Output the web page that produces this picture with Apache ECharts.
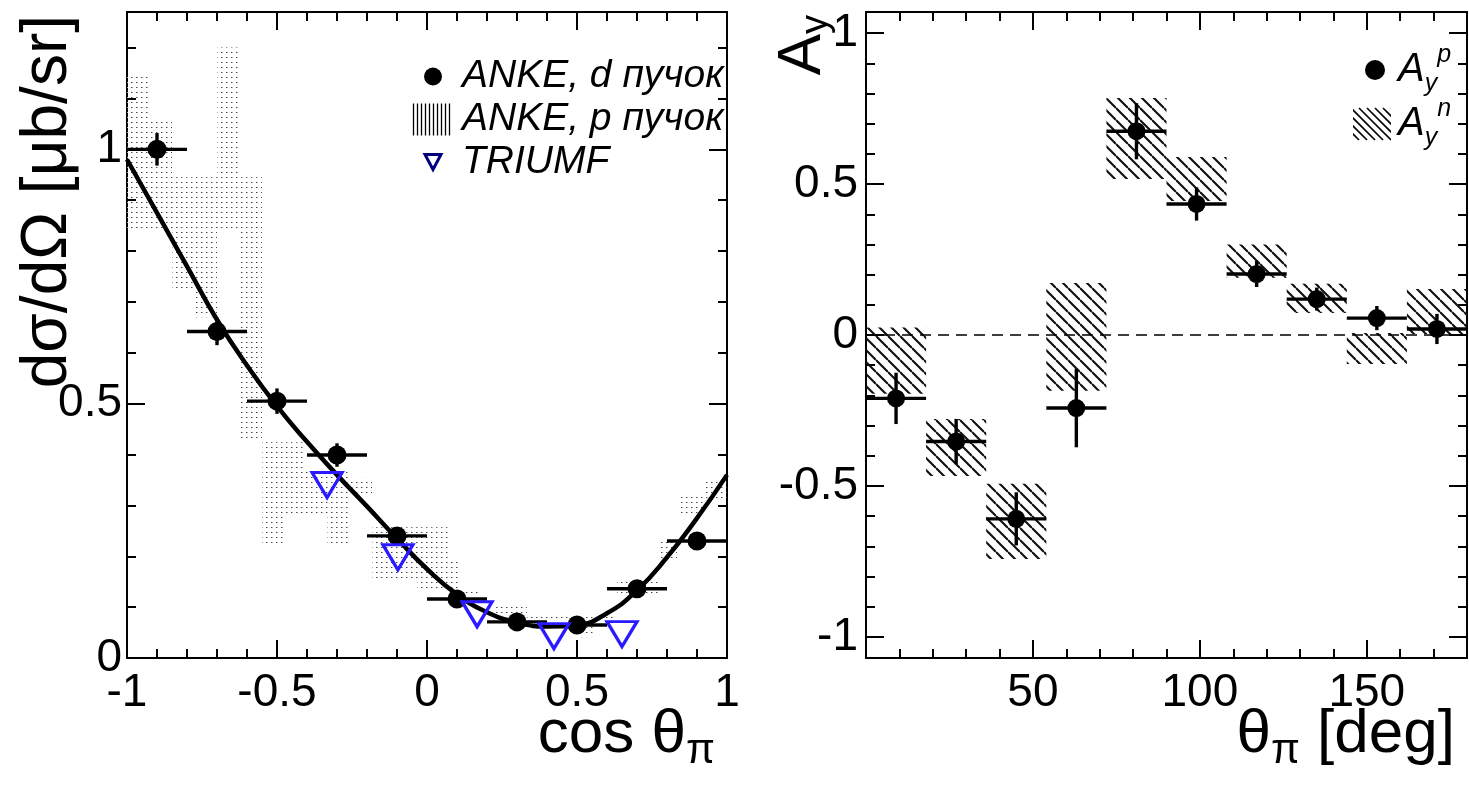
<!DOCTYPE html>
<html><head><meta charset="utf-8">
<script src="https://cdn.jsdelivr.net/npm/echarts@6/dist/echarts.min.js"></script>
<style>html,body{margin:0;padding:0;background:#fff}#c{width:1469px;height:788px}</style>
</head><body><div id="c"></div>
<script>
// ---------------- data: left panel (dσ/dΩ vs cos θπ) ----------------
const dBeamCos      = [-0.9, -0.7, -0.5, -0.3, -0.1, 0.1, 0.3, 0.5, 0.7, 0.9];
const dBeamCosHalf  = [0.1, 0.1, 0.1, 0.1, 0.1, 0.1, 0.1, 0.1, 0.1, 0.1];
const dBeamXsec     = [1.0, 0.642, 0.505, 0.399, 0.24, 0.116, 0.071, 0.065, 0.136, 0.23];
const dBeamXsecErr  = [0.032, 0.027, 0.025, 0.023, 0.015, 0.01, 0.01, 0.01, 0.01, 0.01];

const triumfCos  = [-0.333, -0.097, 0.167, 0.423, 0.65];
const triumfXsec = [0.34, 0.198, 0.086, 0.043, 0.047];

const fitCos  = [-1, -0.9, -0.8, -0.7, -0.6, -0.5, -0.4, -0.3, -0.2, -0.1, 0, 0.1, 0.2, 0.3, 0.4, 0.5, 0.6, 0.7, 0.8, 0.9, 1];
const fitXsec = [0.98, 0.875, 0.77, 0.665, 0.575, 0.495, 0.425, 0.36, 0.298, 0.235, 0.175, 0.125, 0.09, 0.07, 0.062, 0.065, 0.088, 0.133, 0.198, 0.275, 0.36];

const pBeamCosLo  = [-1.0, -0.923, -0.85, -0.775, -0.70, -0.63, -0.55, -0.48, -0.41, -0.333, -0.257, -0.183, -0.033, 0.11, 0.22, 0.333, 0.51, 0.633, 0.777, 0.843, 0.92];
const pBeamCosHi  = [-0.923, -0.85, -0.775, -0.70, -0.63, -0.55, -0.48, -0.41, -0.333, -0.257, -0.183, 0.077, 0.11, 0.177, 0.333, 0.62, 0.553, 0.777, 0.833, 0.92, 1.0];
const pBeamXsecLo = [0.84, 0.84, 0.72, 0.67, 0.84, 0.43, 0.226, 0.285, 0.285, 0.218, 0.324, 0.153, 0.134, 0.124, 0.08, 0.075, 0.041, 0.12, 0.193, 0.285, 0.31];
const pBeamXsecHi = [1.15, 1.06, 0.945, 0.945, 1.2, 0.945, 0.424, 0.424, 0.37, 0.37, 0.354, 0.257, 0.189, 0.137, 0.108, 0.088, 0.061, 0.157, 0.232, 0.324, 0.35];

// ---------------- data: right panel (A_y vs θπ) ----------------
const thetaCenter = [9, 27, 45, 63, 81, 99, 117, 135, 153, 171];
const thetaHalf   = [9, 9, 9, 9, 9, 9, 9, 9, 9, 9];
const aypValue    = [-0.21, -0.353, -0.609, -0.242, 0.675, 0.434, 0.202, 0.119, 0.056, 0.02];
const aypErr      = [0.085, 0.075, 0.088, 0.13, 0.093, 0.055, 0.043, 0.038, 0.04, 0.05];
const aynLo       = [-0.195, -0.467, -0.742, -0.185, 0.517, 0.444, 0.19, 0.073, -0.096, 0.003];
const aynHi       = [0.025, -0.278, -0.493, 0.172, 0.785, 0.59, 0.30, 0.17, 0.007, 0.152];
const zeroLine    = [[0, 0], [180, 0]];

// ---------------- tick labels ----------------
const leftXLabels  = [-1, -0.5, 0, 0.5, 1];
const leftYLabels  = [0, 0.5, 1];
const rightXLabels = [50, 100, 150];
const rightYLabels = [-1, -0.5, 0, 0.5, 1];

const FONT = 'Liberation Sans';

function labelFmt(list) {
  return function (v) {
    for (const t of list) if (Math.abs(v - t) < 1e-6) return String(t);
    return '';
  };
}

// fill patterns
function dotPattern() {
  const c = document.createElement('canvas'); c.width = 5; c.height = 5;
  const g = c.getContext('2d');
  g.fillStyle = '#444'; g.fillRect(1, 2, 1, 1);
  g.fillStyle = '#aaa'; g.fillRect(2, 2, 1, 1);
  return { image: c, repeat: 'repeat' };
}
function hatchPattern() {
  const s = 12;
  const c = document.createElement('canvas'); c.width = s; c.height = s;
  const g = c.getContext('2d');
  g.strokeStyle = '#111'; g.lineWidth = 2.1; g.beginPath();
  for (const k of [-s, 0, s]) { g.moveTo(0, k); g.lineTo(s, s + k); }
  g.stroke();
  return { image: c, repeat: 'repeat' };
}
const dotFill = dotPattern();
const hatchFill = hatchPattern();

function boxRender(fill) {
  return function (params, api) {
    const p1 = api.coord([api.value(0), api.value(3)]);
    const p2 = api.coord([api.value(1), api.value(2)]);
    return { type: 'rect', shape: { x: p1[0], y: p1[1], width: p2[0] - p1[0], height: p2[1] - p1[1] },
             style: { fill: fill } };
  };
}
function errRender(params, api) {
  const x = api.value(0), y = api.value(1), dx = api.value(2), dy = api.value(3);
  const l = api.coord([x - dx, y]), r = api.coord([x + dx, y]);
  const b = api.coord([x, y - dy]), t = api.coord([x, y + dy]);
  const st = { stroke: '#000', lineWidth: 3.4 };
  return { type: 'group', children: [
    { type: 'line', shape: { x1: l[0], y1: l[1], x2: r[0], y2: r[1] }, style: st },
    { type: 'line', shape: { x1: b[0], y1: b[1], x2: t[0], y2: t[1] }, style: st }
  ] };
}

function ax(o) {
  return {
    type: 'value', gridIndex: o.grid, position: o.pos, min: o.min, max: o.max,
    minInterval: o.step, maxInterval: o.step, splitNumber: Math.round((o.max - o.min) / o.step),
    axisLine: { show: o.major, onZero: false, lineStyle: { color: '#000', width: 2 } },
    axisTick: { show: true, inside: true, length: o.major ? 18 : 9, lineStyle: { color: '#000', width: 2 } },
    axisLabel: { show: !!o.fmt, formatter: o.fmt, fontSize: 46, color: '#000', fontFamily: FONT, margin: o.margin || 8 },
    splitLine: { show: false },
    name: o.name, nameLocation: o.nameLocation, nameGap: o.nameGap, nameRotate: o.nameRotate,
    nameMoveOverlap: false,
    nameTextStyle: o.nameTextStyle
  };
}

function svgIcon(w, h, body) {
  return 'image://data:image/svg+xml;charset=utf-8,' + encodeURIComponent(
    '<svg xmlns="http://www.w3.org/2000/svg" width="' + w + '" height="' + h + '" viewBox="0 0 ' + w + ' ' + h + '">' + body + '</svg>');
}
let vlines = '';
for (let x = 1.5; x < 38; x += 4) vlines += '<line x1="' + x + '" y1="1" x2="' + x + '" y2="33" stroke="#000" stroke-width="1.3"/>';
let dlines = '';
for (let k = -34; k < 40; k += 8) dlines += '<line x1="' + k + '" y1="1" x2="' + (k + 32) + '" y2="33" stroke="#000" stroke-width="1.6"/>';
const iconDot   = svgIcon(45, 34, '<circle cx="21" cy="17" r="9" fill="#000"/>');
const iconVL    = svgIcon(45, 34, vlines);
const iconTri   = svgIcon(45, 34, '<polygon points="13,9 29,9 21,24" fill="none" stroke="#00007f" stroke-width="3"/>');
const iconDotR  = svgIcon(40, 34, '<circle cx="22" cy="17" r="10" fill="#000"/>');
const iconHatch = svgIcon(40, 34, '<svg x="0" y="0" width="38" height="34">' + dlines + '</svg>');

const chart = echarts.init(document.getElementById('c'), null, { renderer: 'canvas' });
const option = {
  animation: false,
  backgroundColor: '#fff',
  textStyle: { fontFamily: FONT },
  grid: [
    { left: 127, top: 12, width: 600, height: 646, containLabel: false, outerBoundsMode: 'none' },
    { left: 866, top: 12, width: 601, height: 646, containLabel: false, outerBoundsMode: 'none' }
  ],
  xAxis: [
    ax({ grid: 0, pos: 'bottom', min: -1, max: 1, step: 0.5, major: true, fmt: labelFmt(leftXLabels), margin: 12,
         name: '{t|cos θ}{s|π}', nameLocation: 'end', nameGap: -12,
         nameTextStyle: { align: 'right', verticalAlign: 'top', padding: [40, 0, 0, 0],
           rich: { t: { fontSize: 62, fontFamily: FONT, lineHeight: 74, color: '#000' },
                   s: { fontSize: 42, fontFamily: FONT, lineHeight: 42, verticalAlign: 'bottom', color: '#000' } } } }),
    ax({ grid: 0, pos: 'bottom', min: -1, max: 1, step: 0.1, major: false }),
    ax({ grid: 0, pos: 'top', min: -1, max: 1, step: 0.5, major: true }),
    ax({ grid: 0, pos: 'top', min: -1, max: 1, step: 0.1, major: false }),
    ax({ grid: 1, pos: 'bottom', min: 0, max: 180, step: 50, major: true, fmt: labelFmt(rightXLabels), margin: 12,
         name: '{t|θ}{s|π}{t| [deg]}', nameLocation: 'end', nameGap: -12,
         nameTextStyle: { align: 'right', verticalAlign: 'top', padding: [40, 0, 0, 0],
           rich: { t: { fontSize: 62, fontFamily: FONT, lineHeight: 74, color: '#000' },
                   s: { fontSize: 42, fontFamily: FONT, lineHeight: 42, verticalAlign: 'bottom', color: '#000' } } } }),
    ax({ grid: 1, pos: 'bottom', min: 0, max: 180, step: 10, major: false }),
    ax({ grid: 1, pos: 'top', min: 0, max: 180, step: 50, major: true }),
    ax({ grid: 1, pos: 'top', min: 0, max: 180, step: 10, major: false })
  ],
  yAxis: [
    ax({ grid: 0, pos: 'left', min: 0, max: 1.27, step: 0.5, major: true, fmt: labelFmt(leftYLabels), margin: 5,
         name: 'dσ/dΩ [μb/sr]', nameLocation: 'end', nameGap: -3, nameRotate: 90,
         nameTextStyle: { fontFamily: FONT, fontSize: 64, lineHeight: 64, color: '#000', align: 'right', verticalAlign: 'bottom', padding: [0, 0, 47, 0] } }),
    ax({ grid: 0, pos: 'left', min: 0, max: 1.27, step: 0.1, major: false }),
    ax({ grid: 0, pos: 'right', min: 0, max: 1.27, step: 0.5, major: true }),
    ax({ grid: 0, pos: 'right', min: 0, max: 1.27, step: 0.1, major: false }),
    ax({ grid: 1, pos: 'left', min: -1.07, max: 1.07, step: 0.5, major: true, fmt: labelFmt(rightYLabels), margin: 8,
         name: '{a|A}{s|y}', nameLocation: 'end', nameGap: -3, nameRotate: 90,
         nameTextStyle: { align: 'right', verticalAlign: 'bottom', padding: [0, 0, 30, 0],
           rich: { a: { fontSize: 62, fontFamily: FONT, lineHeight: 66, color: '#000' },
                   s: { fontSize: 38, fontFamily: FONT, lineHeight: 38, verticalAlign: 'bottom', color: '#000' } } } }),
    ax({ grid: 1, pos: 'left', min: -1.07, max: 1.07, step: 0.1, major: false }),
    ax({ grid: 1, pos: 'right', min: -1.07, max: 1.07, step: 0.5, major: true }),
    ax({ grid: 1, pos: 'right', min: -1.07, max: 1.07, step: 0.1, major: false })
  ],
  legend: [
    { data: [ { name: 'ANKE, d пучок', icon: iconDot }, { name: 'ANKE, p пучок', icon: iconVL }, { name: 'TRIUMF', icon: iconTri } ],
      left: 407, top: 52, orient: 'vertical', itemWidth: 45, itemHeight: 34, itemGap: 4, selectedMode: false,
      textStyle: { fontFamily: FONT, fontStyle: 'italic', fontSize: 39, lineHeight: 36, color: '#000' } },
    { data: [ { name: 'Ayp', icon: iconDotR }, { name: 'Ayn', icon: iconHatch } ],
      left: 1348, top: 38, orient: 'vertical', itemWidth: 40, itemHeight: 34, itemGap: 0, selectedMode: false,
      formatter: function (n) { return n === 'Ayp' ? '{a|A}{s|y}{p|p}' : '{a|A}{s|y}{p|n}'; },
      textStyle: { rich: {
        a: { fontSize: 40, fontFamily: FONT, fontStyle: 'italic', lineHeight: 54, color: '#000' },
        s: { fontSize: 25, fontFamily: FONT, fontStyle: 'italic', lineHeight: 25, verticalAlign: 'bottom', color: '#000' },
        p: { fontSize: 25, fontFamily: FONT, fontStyle: 'italic', lineHeight: 25, verticalAlign: 'top', color: '#000' } } } }
  ],
  series: [
    { type: 'custom', name: 'ANKE, p пучок', xAxisIndex: 0, yAxisIndex: 0, z: 1,
      renderItem: boxRender(dotFill), encode: { x: [0, 1], y: [2, 3] },
      itemStyle: { color: '#777' },
      data: pBeamCosLo.map((v, i) => [v, pBeamCosHi[i], pBeamXsecLo[i], pBeamXsecHi[i]]) },
    { type: 'line', xAxisIndex: 0, yAxisIndex: 0, z: 3, smooth: true, showSymbol: false, symbol: 'none',
      lineStyle: { color: '#000', width: 4.5 },
      data: fitCos.map((c, i) => [c, fitXsec[i]]) },
    { type: 'custom', xAxisIndex: 0, yAxisIndex: 0, z: 4, renderItem: errRender, encode: { x: 0, y: 1 },
      data: dBeamCos.map((c, i) => [c, dBeamXsec[i], dBeamCosHalf[i], dBeamXsecErr[i]]) },
    { type: 'scatter', name: 'ANKE, d пучок', xAxisIndex: 0, yAxisIndex: 0, z: 5,
      symbol: 'circle', symbolSize: 19, itemStyle: { color: '#000', opacity: 1 },
      data: dBeamCos.map((c, i) => [c, dBeamXsec[i]]) },
    { type: 'scatter', name: 'TRIUMF', xAxisIndex: 0, yAxisIndex: 0, z: 6,
      symbol: 'triangle', symbolRotate: 180, symbolSize: [30, 25],
      itemStyle: { color: 'rgba(0,0,0,0)', borderColor: '#2a1aff', borderWidth: 3.2, opacity: 1 },
      data: triumfCos.map((c, i) => [c, triumfXsec[i]]) },

    { type: 'custom', name: 'Ayn', xAxisIndex: 4, yAxisIndex: 4, z: 1,
      renderItem: boxRender(hatchFill), encode: { x: [0, 1], y: [2, 3] },
      itemStyle: { color: '#000' },
      data: thetaCenter.map((c, i) => [c - thetaHalf[i], c + thetaHalf[i], aynLo[i], aynHi[i]]) },
    { type: 'line', xAxisIndex: 4, yAxisIndex: 4, z: 2, showSymbol: false, symbol: 'none',
      lineStyle: { color: '#000', width: 1.6, type: [11, 7] }, data: zeroLine },
    { type: 'custom', xAxisIndex: 4, yAxisIndex: 4, z: 4, renderItem: errRender, encode: { x: 0, y: 1 },
      data: thetaCenter.map((c, i) => [c, aypValue[i], thetaHalf[i], aypErr[i]]) },
    { type: 'scatter', name: 'Ayp', xAxisIndex: 4, yAxisIndex: 4, z: 5,
      symbol: 'circle', symbolSize: 18, itemStyle: { color: '#000', opacity: 1 },
      data: thetaCenter.map((c, i) => [c, aypValue[i]]) }
  ]
};
chart.setOption(option);
</script>
</body></html>
